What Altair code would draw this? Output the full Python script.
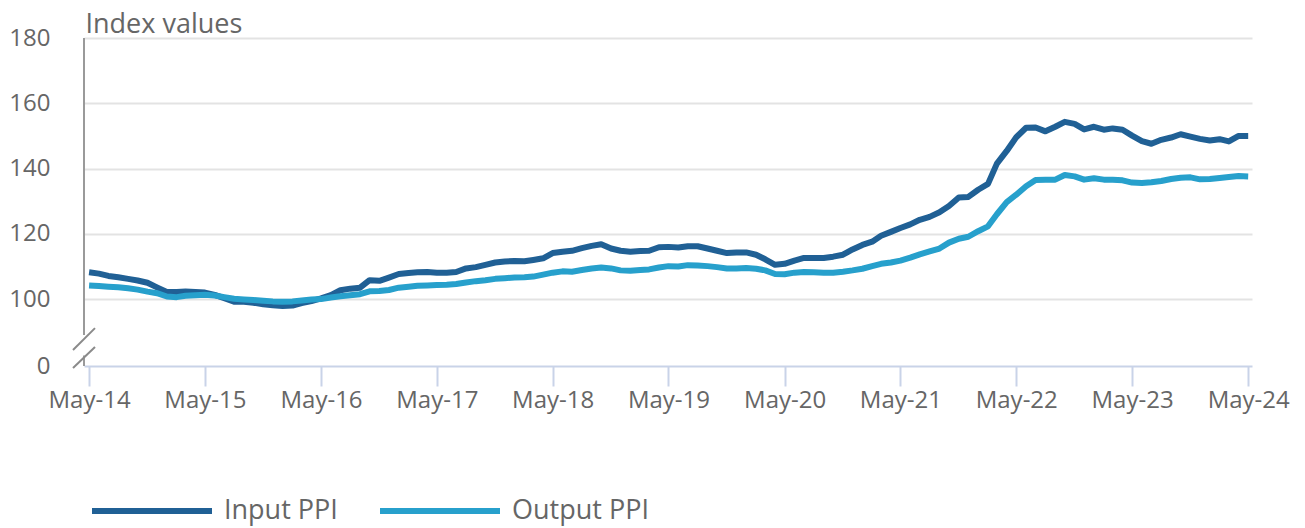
import altair as alt
import pandas as pd

# ---- data -------------------------------------------------------------
months = pd.date_range("2014-05-01", "2024-05-01", freq="MS")

input_ppi = [
    108.2, 107.8, 107.1, 106.7, 106.2, 105.7, 105.0, 103.6, 102.2, 102.2, 102.3, 102.2,
    102.0, 101.3, 100.3, 99.2, 99.2, 98.9, 98.4, 98.1, 97.9, 98.0, 98.8, 99.4,
    100.2, 101.2, 102.7, 103.2, 103.5, 105.8, 105.6, 106.6, 107.7, 108.0, 108.2, 108.3,
    108.1, 108.1, 108.3, 109.4, 109.8, 110.5, 111.2, 111.5, 111.7, 111.6, 112.0, 112.5,
    114.1, 114.5, 114.8, 115.6, 116.3, 116.8, 115.5, 114.8, 114.5, 114.7, 114.8, 115.9,
    116.0, 115.8, 116.2, 116.2, 115.5, 114.8, 114.1, 114.3, 114.3, 113.6, 112.2, 110.5,
    110.8, 111.8, 112.6, 112.6, 112.6, 113.0, 113.6, 115.2, 116.6, 117.6, 119.4, 120.6,
    121.8, 122.9, 124.3, 125.2, 126.6, 128.5, 131.1, 131.3, 133.5, 135.3, 141.5, 145.4,
    149.6, 152.5, 152.6, 151.4, 152.8, 154.3, 153.7, 152.0, 152.8, 151.9, 152.3, 151.9,
    150.1, 148.4, 147.6, 148.8, 149.5, 150.5, 149.8, 149.1, 148.6, 149.0, 148.3, 150.0,
    150.0,
]

output_ppi = [
    104.2, 104.0, 103.8, 103.6, 103.3, 102.9, 102.3, 101.8, 100.8, 100.6, 101.0, 101.2,
    101.3, 101.1, 100.6, 100.1, 99.9, 99.7, 99.5, 99.3, 99.2, 99.3, 99.6, 99.9,
    100.0, 100.5, 100.9, 101.2, 101.5, 102.4, 102.5, 102.8, 103.5, 103.8, 104.1, 104.2,
    104.3, 104.4, 104.6, 105.1, 105.5, 105.8, 106.2, 106.4, 106.6, 106.7, 106.9, 107.5,
    108.1, 108.5, 108.4, 108.9, 109.4, 109.7, 109.4, 108.8, 108.7, 108.9, 109.1, 109.7,
    110.1, 110.0, 110.4, 110.3, 110.1, 109.8, 109.4, 109.4, 109.5, 109.3, 108.8, 107.7,
    107.6, 108.1, 108.3, 108.2, 108.1, 108.1, 108.4, 108.8, 109.3, 110.1, 110.8, 111.2,
    111.8, 112.7, 113.7, 114.6, 115.5, 117.3, 118.5, 119.1, 120.8, 122.3, 126.0, 129.7,
    132.0, 134.6, 136.5, 136.6, 136.6, 138.0, 137.6, 136.6, 137.0, 136.6, 136.6, 136.4,
    135.7, 135.6, 135.8, 136.2, 136.8, 137.2, 137.3, 136.7, 136.8, 137.1, 137.4, 137.7,
    137.6,
]

series_names = ["Input PPI", "Output PPI"]
series_colors = ["#206095", "#27a0cc"]

y_tick_values = [79.5, 100, 120, 140, 160, 180]   # 79.5 is shown as "0" (broken axis)
y_domain = [79.5, 180]
x_domain = ["2014-04-15", "2024-05-13"]
x_tick_dates = [f"20{y:02d}-05-01" for y in range(14, 25)]

# axis-line pieces and break marks (in data units of y)
axis_seg_top = [180, 82.7]
axis_seg_bottom = [89.0, 79.5]
break_low = [84.4, 78.9]
break_high = [91.1, 85.3]

# ---- build tables -------------------------------------------------------
def ms(d):
    return int(pd.Timestamp(d, tz="UTC").timestamp() * 1000)

df = pd.DataFrame({
    "date": [ms(d) for d in months] * 2,
    "value": input_ppi + output_ppi,
    "series": [series_names[0]] * len(months) + [series_names[1]] * len(months),
})

axis_df = pd.DataFrame({"y": axis_seg_top, "y2": axis_seg_bottom})
break_df = pd.DataFrame({"y": break_low, "y2": break_high})

FONT = "Open Sans"
TXT = "#666666"

x_scale = alt.Scale(type="utc", domain=[ms(d) for d in x_domain])
y_scale = alt.Scale(domain=y_domain, nice=False, zero=False)

lines = alt.Chart(df).mark_line(strokeWidth=6, strokeJoin="round", strokeCap="butt").encode(
    x=alt.X(
        "date:T",
        scale=x_scale,
        axis=alt.Axis(
            values=[ms(d) for d in x_tick_dates],
            labelExpr="utcFormat(datum.value, '%b') + '-' + utcFormat(datum.value, '%y')",
            title=None,
            grid=False,
            domainColor="#c9d3e8",
            domainWidth=2,
            tickColor="#c9d3e8",
            tickWidth=2,
            tickSize=20,
            labelFontSize=24,
            labelFont=FONT,
            labelColor=TXT,
            labelPadding=2,
            labelFlush=False,
            labelOverlap=False,
        ),
    ),
    y=alt.Y(
        "value:Q",
        scale=y_scale,
        axis=alt.Axis(
            values=y_tick_values,
            labelExpr="datum.value < 90 ? '0' : datum.label",
            domain=False,
            ticks=False,
            grid=True,
            gridColor={"condition": {"test": "datum.value < 90", "value": "transparent"}, "value": "#e3e3e3"},
            gridWidth=2,
            labelFontSize=24,
            labelFont=FONT,
            labelColor=TXT,
            labelPadding=34,
            title="Index values",
            titleAngle=0,
            titleAlign="left",
            titleBaseline="alphabetic",
            titleX=1,
            titleY=-6,
            titleFont=FONT,
            titleFontSize=27,
            titleFontWeight="normal",
            titleColor=TXT,
        ),
    ),
    color=alt.Color(
        "series:N",
        scale=alt.Scale(domain=series_names, range=series_colors),
        legend=alt.Legend(
            title=None,
            orient="none",
            legendX=5,
            legendY=410,
            direction="horizontal",
            symbolType="stroke",
            symbolSize=14400,
            symbolStrokeWidth=6,
            labelFontSize=27,
            labelFont=FONT,
            labelColor=TXT,
            labelOffset=9,
            columnPadding=30,
            padding=0,
        ),
    ),
)

axis_line = alt.Chart(axis_df).mark_rule(color="#9a9a9a", strokeWidth=2).encode(
    x=alt.value(0),
    y=alt.Y("y:Q", scale=y_scale),
    y2="y2:Q",
)

breaks = alt.Chart(break_df).mark_rule(color="#8a8a8a", strokeWidth=2).encode(
    x=alt.value(-11),
    x2=alt.value(11),
    y=alt.Y("y:Q", scale=y_scale),
    y2="y2:Q",
)

chart = alt.layer(lines, axis_line, breaks).properties(
    width=1168,
    height=328,
    padding={"left": 0, "top": 2, "right": 5, "bottom": 6},
).configure_view(stroke=None)

chart.save("out.html", embed_options={"renderer": "svg", "actions": False})
